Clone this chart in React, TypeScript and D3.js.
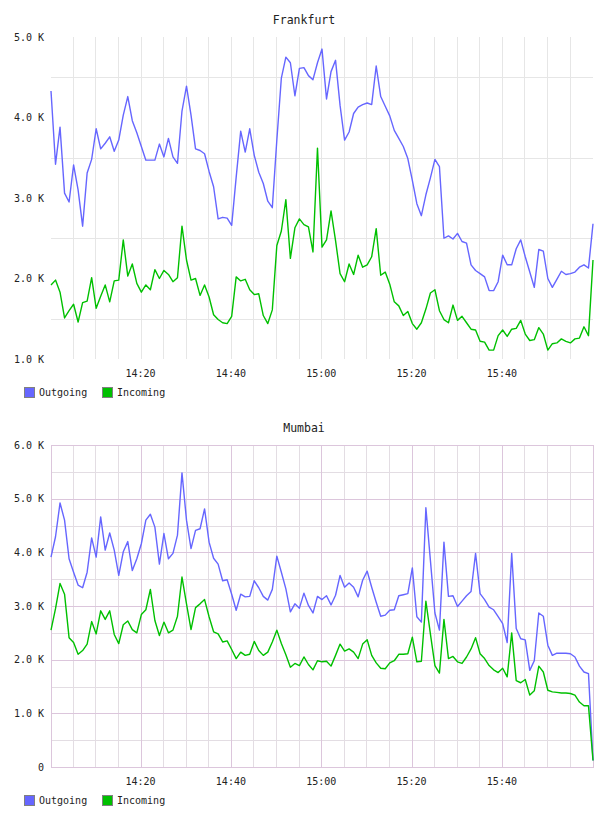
import React, {useEffect, useRef} from 'react';
import * as d3 from 'd3';

// one sample per minute, starting 14:00:10
const startTime = new Date(2020, 0, 1, 14, 0, 10);
const endTime = new Date(2020, 0, 1, 16, 0, 10);

const frankfurtOutgoing = [
  4330, 3420, 3880, 3060, 2950, 3410, 3100, 2650, 3310, 3480, 3860, 3610, 3680, 3760, 3580, 3720, 4030, 4260, 3960, 3810,
  3640, 3470, 3470, 3470, 3670, 3510, 3740, 3510, 3430, 4080, 4390, 4030, 3610, 3590, 3550, 3330, 3140, 2740, 2760, 2750,
  2660, 3260, 3830, 3570, 3860, 3530, 3320, 3180, 2960, 2880, 3720, 4490, 4750, 4680, 4270, 4610, 4620, 4520, 4470, 4680,
  4850, 4230, 4570, 4710, 4150, 3720, 3820, 4050, 4130, 4160, 4180, 4160, 4640, 4260, 4140, 4020, 3840, 3740, 3640, 3490,
  3220, 2930, 2780, 3040, 3250, 3480, 3390, 2500, 2530, 2490, 2560, 2460, 2440, 2170, 2100, 2060, 2020, 1850, 1850, 1960,
  2290, 2170, 2170, 2370, 2480, 2270, 2080, 1890, 2360, 2340, 2000, 1890, 1990, 2090, 2050, 2060, 2080, 2140, 2170, 2130,
  2680
];
const frankfurtIncoming = [
  1920, 1980, 1830, 1510, 1600, 1680, 1460, 1700, 1720, 2010, 1630, 1780, 1920, 1710, 1970, 1980, 2480, 2030, 2180, 1940,
  1830, 1920, 1860, 2110, 2000, 2100, 2050, 1960, 2010, 2650, 2230, 1980, 2000, 1790, 1920, 1770, 1550, 1490, 1450, 1440,
  1530, 2020, 1970, 1990, 1860, 1800, 1810, 1540, 1440, 1610, 2410, 2590, 2980, 2250, 2630, 2740, 2670, 2640, 2330, 3620,
  2390, 2480, 2840, 2470, 2060, 1960, 2180, 2050, 2290, 2140, 2170, 2270, 2620, 2040, 2080, 1930, 1710, 1660, 1540, 1590,
  1440, 1370, 1450, 1620, 1820, 1860, 1600, 1490, 1450, 1670, 1480, 1530, 1450, 1370, 1360, 1220, 1210, 1110, 1110, 1290,
  1360, 1280, 1370, 1380, 1480, 1310, 1230, 1240, 1390, 1310, 1110, 1190, 1200, 1250, 1220, 1200, 1250, 1260, 1400, 1290,
  2230
];
const mumbaiOutgoing = [
  3910, 4290, 4920, 4600, 3880, 3630, 3390, 3340, 3630, 4270, 3910, 4660, 4040, 4360, 4040, 3570, 4010, 4200, 3660, 3880,
  4160, 4600, 4710, 4470, 3780, 4350, 3880, 3980, 4320, 5480, 4600, 4070, 4410, 4440, 4810, 4190, 3890, 3780, 3470, 3490,
  3220, 2920, 3220, 3170, 3180, 3470, 3340, 3180, 3110, 3310, 3930, 3630, 3320, 2890, 3040, 2960, 3240, 3010, 2870, 3180,
  3120, 3190, 3020, 3200, 3570, 3350, 3430, 3350, 3170, 3480, 3650, 3350, 3070, 2810, 2830, 2920, 2930, 3190, 3210, 3230,
  3710, 2800, 2700, 4830, 3850, 2870, 2550, 4190, 3180, 3190, 2990, 3090, 3190, 3270, 3980, 3230, 3120, 2980, 2930, 2800,
  2670, 2320, 3980, 2580, 2390, 2370, 1800, 1980, 2870, 2810, 2270, 2080, 2120, 2120, 2120, 2110, 2050, 1880, 1770, 1740,
  120
];
const mumbaiIncoming = [
  2550, 2950, 3420, 3220, 2410, 2320, 2100, 2170, 2290, 2710, 2480, 2910, 2750, 2910, 2470, 2300, 2650, 2720, 2560, 2500,
  2840, 2930, 3310, 2730, 2450, 2700, 2500, 2550, 2810, 3540, 3040, 2560, 2970, 3040, 3120, 2800, 2520, 2480, 2330, 2350,
  2190, 2020, 2140, 2080, 2100, 2340, 2170, 2080, 2140, 2330, 2550, 2300, 2090, 1860, 1930, 1890, 2050, 1910, 1810, 1980,
  1960, 1970, 1880, 2080, 2290, 2160, 2200, 2140, 2020, 2290, 2370, 2080, 1940, 1840, 1830, 1940, 1980, 2100, 2100, 2110,
  2420, 1960, 1970, 3090, 2480, 1890, 1750, 2750, 2020, 2060, 1960, 1930, 2050, 2200, 2410, 2110, 2020, 1890, 1810, 1760,
  1840, 1680, 2500, 1610, 1570, 1630, 1340, 1420, 1880, 1770, 1430, 1400, 1390, 1380, 1380, 1370, 1340, 1210, 1140, 1140,
  120
];

const seriesNames = ["Outgoing", "Incoming"];
const seriesColors = ["#6666ff", "#00c000"];

const mono = "'DejaVu Sans Mono', monospace";

interface PanelSpec {
  title: string
  top: number
  yDomain: [number, number]
  yTicks: number[]
  outgoing: number[]
  incoming: number[]
  framed: boolean
}

const panels: PanelSpec[] = [
  {title: "Frankfurt", top: 37, yDomain: [1000, 5000], yTicks: [1000, 2000, 3000, 4000, 5000],
    outgoing: frankfurtOutgoing, incoming: frankfurtIncoming, framed: false},
  {title: "Mumbai", top: 445, yDomain: [0, 6000], yTicks: [0, 1000, 2000, 3000, 4000, 5000, 6000],
    outgoing: mumbaiOutgoing, incoming: mumbaiIncoming, framed: true},
];

function formatK(v: number) {
  return v === 0 ? "0" : (v / 1000).toFixed(1) + " K";
}

const App: React.FC = () => {
  const ref = useRef<SVGSVGElement>(null);
  const width = 608, height = 816;
  const left = 51, right = 593, plotHeight = 322;

  useEffect(() => {
    const svg = d3.select(ref.current);
    svg.selectAll("*").remove();

    const x = d3.scaleTime().domain([startTime, endTime]).range([left, right]);
    const minorTicks = x.ticks(d3.timeMinute.every(5)!).filter(t => x(t) > left + 3 && x(t) < right - 3);
    const majorTicks = minorTicks.filter(t => t.getMinutes() % 20 === 0);
    const timeOf = (i: number) => new Date(startTime.getTime() + i * 60000);

    panels.forEach(p => {
      const bottom = p.top + plotHeight;
      const y = d3.scaleLinear().domain(p.yDomain).range([bottom, p.top]);
      const g = svg.append("g");

      // half-step grid values
      const halfSteps = d3.range(p.yDomain[0] + 500, p.yDomain[1], 1000);
      const minorColor = p.framed ? "#e3dde3" : "#e6e6e6";
      const majorColor = p.framed ? "#dcc6dc" : "#e6e6e6";

      g.selectAll(".hminor").data(halfSteps).join("line")
        .attr("x1", left).attr("x2", right)
        .attr("y1", d => Math.round(y(d)) + 0.5).attr("y2", d => Math.round(y(d)) + 0.5)
        .attr("stroke", minorColor);

      g.selectAll(".vline").data(minorTicks).join("line")
        .attr("x1", d => Math.round(x(d)) + 0.5).attr("x2", d => Math.round(x(d)) + 0.5)
        .attr("y1", p.top).attr("y2", bottom)
        .attr("stroke", d => (d.getMinutes() % 20 === 0 ? majorColor : minorColor));

      if (p.framed) {
        g.selectAll(".hmajor").data(p.yTicks).join("line")
          .attr("x1", left).attr("x2", right)
          .attr("y1", d => Math.round(y(d)) + 0.5).attr("y2", d => Math.round(y(d)) + 0.5)
          .attr("stroke", majorColor);
        g.append("rect")
          .attr("x", left + 0.5).attr("y", p.top + 0.5)
          .attr("width", right - left).attr("height", plotHeight)
          .attr("fill", "none").attr("stroke", majorColor);
      }

      // title
      g.append("text")
        .attr("x", width / 2).attr("y", p.top - 13)
        .attr("text-anchor", "middle")
        .attr("font-family", mono).attr("font-size", 11.5)
        .attr("fill", "#222")
        .text(p.title);

      // y labels
      g.selectAll(".ylab").data(p.yTicks).join("text")
        .attr("x", 44).attr("y", d => y(d) + 3.5)
        .attr("text-anchor", "end")
        .attr("font-family", mono).attr("font-size", 10)
        .attr("fill", "#222")
        .text(d => formatK(d));

      // x labels
      g.selectAll(".xlab").data(majorTicks).join("text")
        .attr("x", d => x(d)).attr("y", bottom + 18)
        .attr("text-anchor", "middle")
        .attr("font-family", mono).attr("font-size", 10)
        .attr("fill", "#222")
        .text(d => d3.timeFormat("%H:%M")(d));

      // series
      [p.outgoing, p.incoming].forEach((values, k) => {
        const line = d3.line<number>()
          .x((_, i) => x(timeOf(i)))
          .y(d => y(d));
        g.append("path")
          .attr("d", line(values))
          .attr("fill", "none")
          .attr("stroke", seriesColors[k])
          .attr("stroke-width", 1.4)
          .attr("stroke-linejoin", "round");
      });

      // legend
      const legendX = [24, 102];
      seriesNames.forEach((name, k) => {
        g.append("rect")
          .attr("x", legendX[k] + 0.5).attr("y", bottom + 28.5)
          .attr("width", 10).attr("height", 10)
          .attr("fill", seriesColors[k])
          .attr("stroke", "#808080");
        g.append("text")
          .attr("x", legendX[k] + 15).attr("y", bottom + 37)
          .attr("font-family", mono).attr("font-size", 10)
          .attr("fill", "#222")
          .text(name);
      });
    });
  }, []);

  return <svg ref={ref} width={width} height={height}
              style={{position: "absolute", left: 0, top: 0, background: "#fff"}}/>;
};

export default App;
